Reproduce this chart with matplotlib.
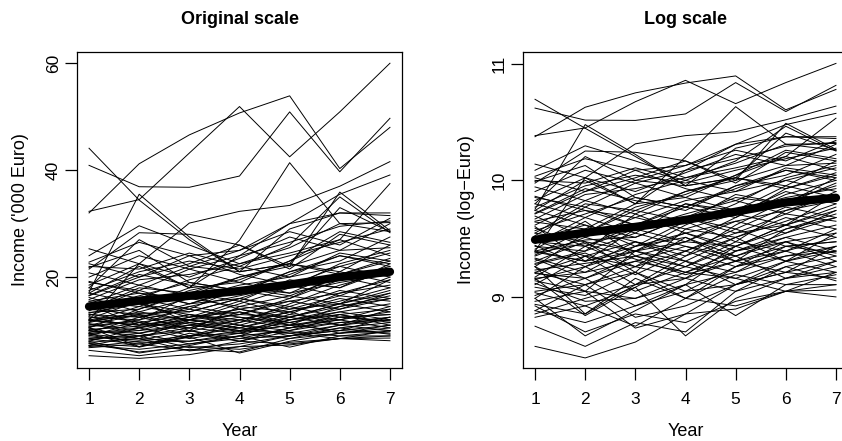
import numpy as np
import matplotlib
matplotlib.use("Agg")
import matplotlib.pyplot as plt

plt.rcParams['font.family'] = ['Liberation Sans', 'DejaVu Sans']

years = [1, 2, 3, 4, 5, 6, 7]

# Individual income trajectories ('000 Euro), one list per person
incomes = [
    [32.0, 41.2, 46.6, 50.7, 53.9, 40.3, 48.0],
    [32.3, 34.5, 43.2, 51.9, 42.5, 50.9, 60.0],
    [40.9, 36.9, 36.8, 38.9, 50.9, 39.7, 49.7],
    [44.1, 34.4, 27.0, 21.0, 22.5, 20.5, 23.0],
    [17.0, 22.0, 18.0, 26.9, 41.4, 30.0, 28.5],
    [12.0, 22.5, 30.1, 32.3, 33.4, 37.0, 41.6],
    [16.5, 20.0, 24.0, 25.0, 30.0, 35.5, 39.1],
    [10.5, 14.0, 17.5, 19.5, 23.0, 27.0, 37.5],
    [17.2, 35.5, 27.5, 21.0, 22.5, 33.0, 28.5],
    [14.0, 18.0, 17.0, 20.0, 22.0, 35.9, 28.7],
    [22.0, 21.5, 24.5, 22.0, 26.0, 35.0, 28.3],
    [25.3, 22.5, 18.0, 24.0, 30.0, 32.0, 32.0],
    [24.0, 29.6, 26.0, 22.5, 25.5, 30.0, 30.2],
    [21.5, 28.3, 28.0, 26.0, 21.5, 28.0, 26.0],
    [18.0, 27.0, 22.0, 21.0, 29.0, 32.0, 31.5],
    [22.5, 20.0, 22.5, 26.0, 22.0, 25.0, 25.5],
    [19.0, 17.5, 21.5, 24.0, 26.5, 29.5, 30.5],
    [15.5, 17.0, 16.0, 18.5, 20.0, 22.0, 24.5],
    [13.0, 12.5, 15.0, 17.5, 16.0, 19.5, 22.0],
    [12.0, 11.0, 12.5, 14.0, 15.5, 17.0, 19.5],
    [11.5, 13.5, 12.0, 13.0, 12.5, 14.5, 16.0],
    [10.0, 11.5, 13.0, 12.0, 14.0, 15.0, 17.5],
    [9.5, 10.0, 11.0, 12.5, 11.5, 13.5, 15.0],
    [8.5, 9.0, 10.5, 9.5, 11.0, 12.0, 13.5],
    [7.8, 8.5, 8.0, 9.0, 10.0, 11.5, 12.0],
    [7.2, 6.5, 7.5, 8.5, 9.0, 10.0, 11.0],
    [5.3, 4.8, 5.5, 7.0, 7.3, 8.5, 8.6],
    [6.3, 5.3, 6.5, 6.0, 8.5, 9.5, 10.0],
    [7.2, 9.0, 6.8, 7.5, 9.0, 10.5, 11.5],
    [7.6, 7.0, 9.5, 8.0, 7.5, 8.5, 9.0],
    [8.0, 10.5, 8.5, 10.0, 9.5, 8.5, 8.1],
    [8.4, 7.5, 8.8, 11.0, 9.0, 10.0, 12.5],
    [8.8, 8.2, 10.0, 8.0, 10.5, 13.0, 11.0],
    [9.0, 11.5, 9.0, 9.5, 12.5, 11.0, 14.0],
    [9.3, 8.5, 12.0, 11.0, 10.0, 12.5, 13.0],
    [9.6, 12.5, 10.5, 13.5, 11.0, 14.5, 16.5],
    [9.9, 9.5, 7.5, 9.0, 12.0, 13.5, 12.0],
    [10.2, 10.8, 11.5, 10.5, 13.0, 12.0, 10.5],
    [10.5, 7.0, 9.0, 11.5, 13.5, 15.5, 18.0],
    [10.8, 12.0, 14.0, 12.5, 11.0, 10.0, 9.5],
    [11.0, 13.0, 10.0, 14.5, 16.5, 15.0, 19.5],
    [11.3, 10.0, 12.5, 15.5, 13.0, 17.0, 18.5],
    [11.6, 14.5, 13.0, 11.5, 15.0, 18.5, 21.0],
    [11.9, 11.0, 14.5, 16.5, 18.5, 16.5, 20.0],
    [12.2, 15.5, 11.5, 13.0, 16.0, 20.5, 23.5],
    [12.5, 12.0, 16.5, 14.0, 12.0, 13.0, 11.5],
    [12.8, 16.0, 14.0, 18.0, 17.0, 21.0, 19.0],
    [13.1, 11.5, 10.5, 12.0, 10.5, 11.5, 12.5],
    [13.4, 14.0, 17.0, 15.5, 19.5, 18.0, 22.5],
    [13.7, 17.5, 15.0, 16.0, 14.5, 17.5, 16.0],
    [14.0, 13.0, 12.0, 15.0, 18.0, 22.5, 25.0],
    [14.3, 16.5, 19.0, 17.5, 20.5, 24.0, 22.0],
    [14.6, 12.5, 14.5, 13.0, 15.5, 14.0, 17.0],
    [15.0, 18.5, 16.5, 20.0, 22.5, 21.0, 26.0],
    [15.4, 14.5, 18.0, 19.0, 17.0, 19.0, 20.5],
    [15.8, 19.5, 20.5, 22.5, 24.5, 27.0, 24.0],
    [16.2, 13.5, 16.0, 14.5, 13.5, 16.0, 14.5],
    [16.6, 20.5, 18.5, 17.0, 21.0, 23.0, 27.5],
    [17.0, 15.0, 13.5, 16.0, 19.0, 18.0, 21.5],
    [17.5, 21.0, 23.0, 21.5, 24.0, 26.5, 29.0],
    [18.0, 16.0, 19.5, 22.0, 20.0, 24.5, 23.0],
    [18.5, 22.5, 20.0, 23.5, 27.5, 25.0, 30.0],
    [19.2, 17.0, 15.0, 18.0, 16.5, 20.0, 18.0],
    [20.0, 24.0, 21.5, 19.0, 23.0, 28.5, 26.5],
    [20.8, 18.5, 22.0, 25.0, 28.5, 26.0, 31.0],
    [21.8, 25.0, 19.0, 17.5, 21.0, 24.0, 22.5],
    [7.0, 8.0, 9.0, 10.5, 9.5, 11.0, 10.0],
    [8.2, 9.5, 11.5, 10.0, 11.5, 9.5, 11.0],
    [9.1, 7.8, 8.0, 9.5, 8.5, 10.5, 9.3],
    [10.0, 9.0, 10.0, 8.5, 10.5, 12.0, 14.5],
    [10.7, 11.8, 9.8, 12.0, 14.5, 12.5, 13.0],
    [11.2, 9.5, 11.0, 10.0, 12.0, 14.0, 16.0],
    [12.0, 13.2, 13.5, 16.0, 14.0, 16.5, 15.5],
    [12.6, 10.5, 13.0, 11.0, 13.5, 11.0, 12.0],
    [6.8, 7.5, 6.3, 8.0, 9.8, 9.0, 9.8],
    [7.5, 6.0, 7.0, 6.5, 7.8, 8.5, 10.0],
    [13.3, 15.0, 12.5, 13.5, 11.5, 13.0, 14.0],
    [14.8, 11.0, 12.0, 10.5, 12.5, 15.0, 13.5],
    [9.4, 10.5, 12.0, 14.0, 12.5, 15.0, 17.0],
    [11.8, 12.8, 11.2, 9.8, 11.0, 12.5, 11.8],
    [9.5, 6.9, 8.8, 5.8, 8.0, 9.5, 10.5],
    [8.0, 5.8, 7.2, 9.0, 6.9, 9.0, 9.0],
    [10.5, 8.5, 6.2, 7.0, 9.0, 11.0, 12.5],
    [22.8, 26.5, 24.0, 20.5, 18.5, 22.0, 20.0],
]

# Mean trajectories (thick lines)
mean_orig = [14.5, 15.6, 16.5, 17.4, 18.6, 20.0, 21.0]
mean_log = [9.49, 9.55, 9.60, 9.66, 9.73, 9.81, 9.85]

orig_yticks = [20, 40, 60]
log_yticks = [9, 10, 11]

W, H = 842, 441
fig = plt.figure(figsize=(W / 100, H / 100), dpi=100)

def px_axes(left, right, top, bottom):
    return fig.add_axes([left / W, 1 - bottom / H, (right - left) / W, (bottom - top) / H])

ax1 = px_axes(77, 402, 52, 368)
ax2 = px_axes(523, 848, 52, 368)

inc = np.array(incomes)
log_inc = np.log(inc * 1000)

for row in inc:
    ax1.plot(years, row, color='black', lw=0.7)
ax1.plot(years, mean_orig, color='black', lw=6, solid_capstyle='round')

for row in log_inc:
    ax2.plot(years, row, color='black', lw=0.7)
ax2.plot(years, mean_log, color='black', lw=6, solid_capstyle='round')

ax1.set_ylim(3.0, 62.1)
ax2.set_ylim(8.39, 11.10)
ax1.set_yticks(orig_yticks)
ax2.set_yticks(log_yticks)

for ax, title, ylab in [(ax1, 'Original scale', "Income ('000 Euro)"),
                        (ax2, 'Log scale', 'Income (log\u2212Euro)')]:
    ax.set_xlim(0.76, 7.24)
    ax.set_xticks(years)
    ax.tick_params(axis='both', direction='out', length=8.6, width=0.9,
                   labelsize=12.5, color='black')
    ax.tick_params(axis='x', pad=8.5)
    ax.tick_params(axis='y', pad=3)
    for lbl in ax.get_yticklabels():
        lbl.set_rotation(90)
        lbl.set_va('center')
    for s in ax.spines.values():
        s.set_linewidth(0.9)
        s.set_color('black')
    ax.set_title(title, fontsize=13, fontweight='bold', pad=20.5)
    ax.set_xlabel('Year', fontsize=13, labelpad=11.5)
    ax.set_ylabel(ylab, fontsize=13, labelpad=12.5)

fig.savefig('out.png', dpi=100)
